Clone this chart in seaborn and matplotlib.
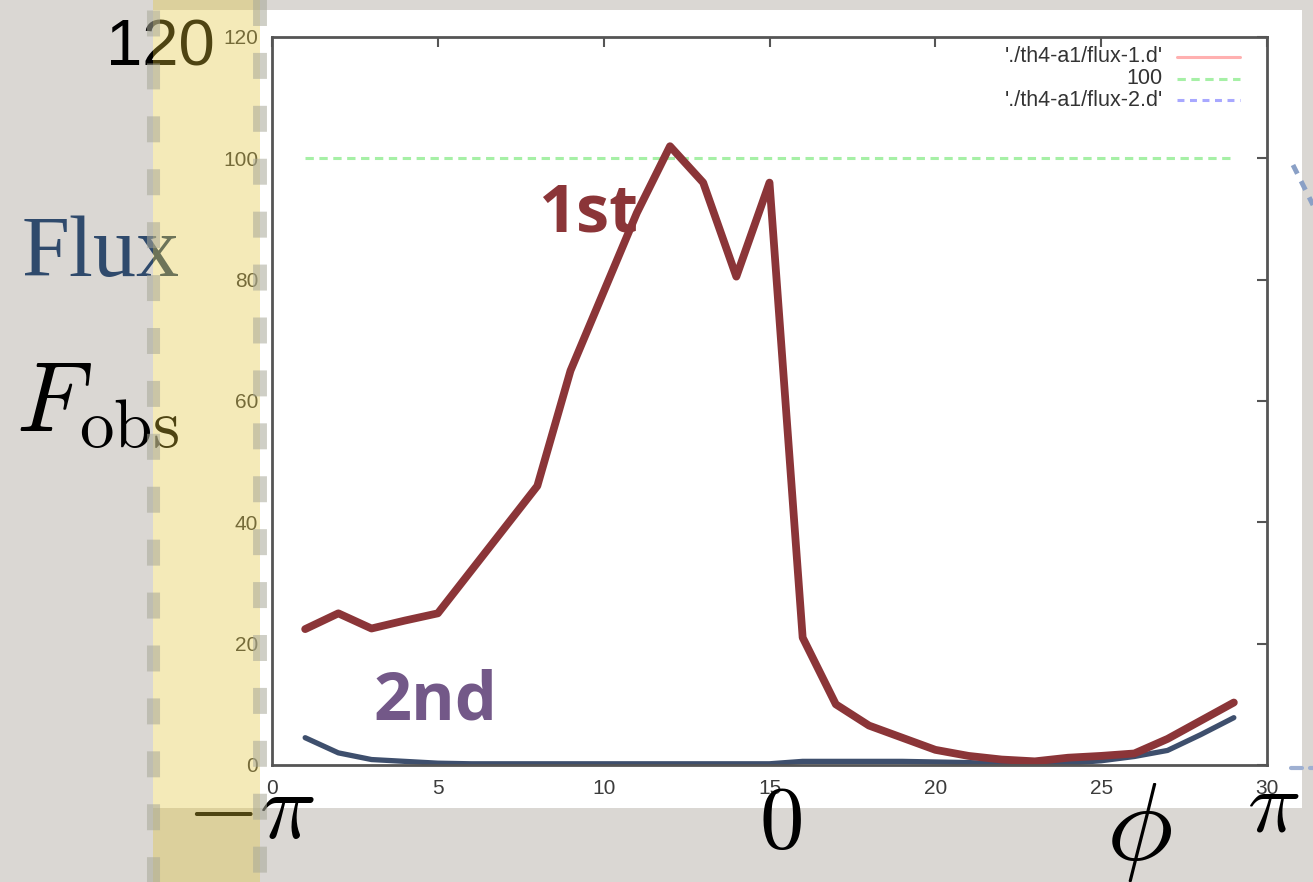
import numpy as np
import pandas as pd
import matplotlib
matplotlib.use("Agg")
import matplotlib.pyplot as plt
from matplotlib.patches import Rectangle
import seaborn as sns

# data
phi_idx = list(range(1, 30))
flux1 = [22.4, 25.0, 22.5, 23.8, 25.0, 32.0, 39.0, 46.0, 65.0, 78.0,
         91.0, 102.0, 96.0, 80.5, 96.0, 21.0, 10.0, 6.5, 4.5, 2.5,
         1.5, 0.9, 0.6, 1.2, 1.5, 1.9, 4.3, 7.3, 10.3]
flux2 = [4.5, 2.0, 0.9, 0.6, 0.3, 0.2, 0.2, 0.2, 0.2, 0.2,
         0.2, 0.2, 0.2, 0.2, 0.2, 0.6, 0.6, 0.6, 0.6, 0.5,
         0.4, 0.2, 0.0, 0.3, 0.7, 1.4, 2.4, 5.0, 7.8]
ref_level = 100
series_names = ["'./th4-a1/flux-1.d'", "100", "'./th4-a1/flux-2.d'"]
series_colors = ["#ffb0b0", "#a6f0a6", "#a8a8ff"]
series_dashes = ["", (6, 4), (5, 4)]
x_ticks = [0, 5, 10, 15, 20, 25, 30]
y_ticks = [0, 20, 40, 60, 80, 100, 120]

W, H = 1313, 882

sns.set_theme(style="white")
plt.rcParams["font.family"] = ["Liberation Sans", "DejaVu Sans"]
plt.rcParams["mathtext.fontset"] = "cm"
plt.rcParams["lines.scale_dashes"] = False

fig = plt.figure(figsize=(W / 100, H / 100), dpi=100)
fig.patch.set_facecolor("#dad7d3")


def px_rect(x0, y0, x1, y1):
    return [x0 / W, 1 - y1 / H, (x1 - x0) / W, (y1 - y0) / H]


# slide background with the pasted white picture
bg = fig.add_axes([0, 0, 1, 1], zorder=0)
bg.set_xlim(0, W)
bg.set_ylim(H, 0)
bg.axis("off")
bg.add_patch(Rectangle((153, 10), 1302 - 153, 798, facecolor="white", edgecolor="none"))

# the gnuplot plot
ax = fig.add_axes(px_rect(272, 37, 1267, 765), zorder=1)
n = len(phi_idx)
df = pd.DataFrame({
    "phi": phi_idx * 3,
    "flux": flux1 + [ref_level] * n + flux2,
    "series": [s for s in series_names for _ in range(n)],
})
sns.lineplot(data=df, x="phi", y="flux", hue="series", style="series",
             palette=dict(zip(series_names, series_colors)),
             dashes=dict(zip(series_names, series_dashes)),
             linewidth=2.2, sort=False, legend=False, ax=ax)

# thick hand-drawn overlays
sns.lineplot(x=phi_idx, y=flux2, color="#3e4f6d", linewidth=3.8, ax=ax)
sns.lineplot(x=phi_idx, y=flux1, color="#8b3538", linewidth=5.6, ax=ax)

ax.set_xlim(0, 30)
ax.set_ylim(0, 120)
ax.set_xticks(x_ticks)
ax.set_yticks(y_ticks)
ax.set_xlabel("")
ax.set_ylabel("")
ax.tick_params(direction="in", length=7, width=1.5, top=True, right=True,
               labelsize=15, labelcolor="#3c3c3c", color="#555555", pad=10)
for sp in ax.spines.values():
    sp.set_color("#555555")
    sp.set_linewidth(2)

# gnuplot style key: right aligned labels, sample to the right
key_rows = [57, 79, 100]
for name, col, dsh, row in zip(series_names, series_colors, series_dashes, key_rows):
    yk = 1 - (row - 37) / 728
    ax.text((1163 - 272) / 995, yk, name, transform=ax.transAxes, ha="right",
            va="center", fontsize=15.5, color="#333333")
    ls = "-" if dsh == "" else (0, dsh)
    ax.plot([(1177 - 272) / 995, (1240 - 272) / 995], [yk, yk], transform=ax.transAxes,
            color=col, lw=2.2, linestyle=ls)

# slide annotations on top
ov = fig.add_axes([0, 0, 1, 1], zorder=3)
ov.set_xlim(0, W)
ov.set_ylim(H, 0)
ov.axis("off")
ov.patch.set_alpha(0)

ov.text(160, 66, "120", fontsize=47, color="black", ha="center", va="baseline", zorder=1)
ov.text(22, 276, "Flux", fontsize=62, color="#2f4a6c", family="Liberation Serif",
        ha="left", va="baseline", zorder=1)
ov.text(16, 432, r"$F_{\rm obs}$", fontsize=71, color="black", ha="left", va="baseline", zorder=1)
ov.text(186, 838, r"$-\pi$", fontsize=68, color="black", ha="left", va="baseline", zorder=1)
ov.text(780, 848, r"$0$", fontsize=64, color="black", ha="center", va="baseline", zorder=1)
ov.text(1139, 860, r"$\phi$", fontsize=80, color="black", ha="center", va="baseline", zorder=1)
ov.text(1273, 832, r"$\pi$", fontsize=64, color="black", ha="center", va="baseline", zorder=1)
ov.text(538, 232, "1st", fontsize=48, color="#8b3538", family="Open Sans",
        fontweight="bold", ha="left", va="baseline", zorder=1)
ov.text(374, 720, "2nd", fontsize=48, color="#735888", family="Open Sans",
        fontweight="bold", ha="left", va="baseline", zorder=1)

# translucent yellow band with dashed grey borders
ov.add_patch(Rectangle((153, 0), 107, H, facecolor=(226 / 255, 197 / 255, 54 / 255),
                       alpha=0.35, edgecolor="none", zorder=5))
ov.plot([153, 153], [0, H], color="#a8a898", alpha=0.55, lw=9.4,
        linestyle=(30.9, (18.7, 19.4)), dash_capstyle="butt", zorder=6)
ov.plot([260, 260], [0, H], color="#a8a898", alpha=0.55, lw=10,
        linestyle=(0, (18.7, 19.4)), dash_capstyle="butt", zorder=6)

# bits of other slide decorations on the right edge
ov.plot([1293, 1313], [165, 205], color="#8aa0c6", lw=3.5,
        linestyle=(0, (7, 6)), dash_capstyle="butt", zorder=6)
ov.plot([1291, 1302], [768, 768], color="#9fb0d2", lw=3, zorder=6)
ov.plot([1310, 1313], [768, 768], color="#9fb0d2", lw=3, zorder=6)

fig.savefig("out.png", dpi=100, facecolor=fig.get_facecolor())
